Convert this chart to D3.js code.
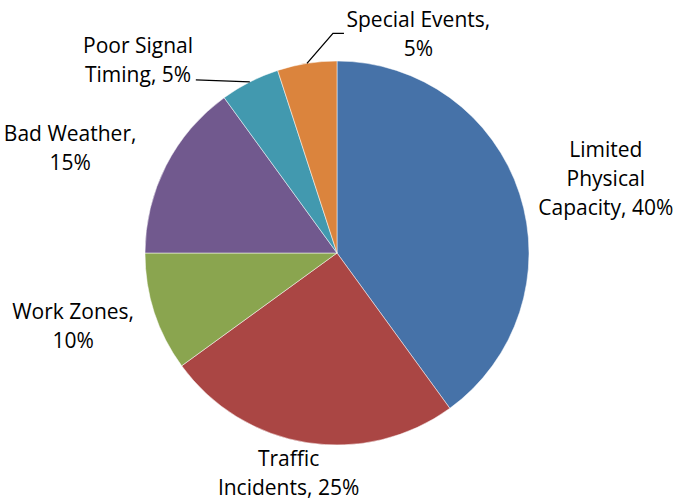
<!DOCTYPE html>
<html><head><meta charset="utf-8">
<script src="https://cdn.jsdelivr.net/npm/d3@7"></script>
<style>body{margin:0;background:#fff}svg{display:block}text{font-family:"Open Sans",sans-serif;font-size:21px;fill:#000}</style>
</head><body>
<svg id="c" width="676" height="502"></svg>
<script>
const categories = ["Limited Physical Capacity","Traffic Incidents","Work Zones","Bad Weather","Poor Signal Timing","Special Events"];
const values = [40,25,10,15,5,5];
const labelLines = [["Limited","Physical","Capacity, 40%"],["Traffic","Incidents, 25%"],["Work Zones,","10%"],["Bad Weather,","15%"],["Poor Signal","Timing, 5%"],["Special Events,","5%"]];
const colors = ["#4672A8","#AA4644","#8AA54F","#71598E","#4299AF","#DB843D"];
// layout: label center polar offset (deg from slice mid, radius)
const labelPolar = [[4,277],[3,233],[1,276],[-7,284],[-20,272],[30,227]];

const cx=337, cy=253, R=192, lh=29;
const svg=d3.select("#c");
const g=svg.append("g").attr("transform",`translate(${cx},${cy})`);
const pie=d3.pie().sort(null).value(d=>d)(values);
const arc=d3.arc().innerRadius(0).outerRadius(R);
g.selectAll("path").data(pie).join("path").attr("d",arc).attr("fill",(d,i)=>colors[i]).attr("stroke","#fff").attr("stroke-width",0.5);

const pol=(a,r)=>[r*Math.sin(a), -r*Math.cos(a)];
pie.forEach((d,i)=>{
  const mid=(d.startAngle+d.endAngle)/2;
  const [lp,lr]=labelPolar[i];
  const [x,y]=pol(mid+lp*Math.PI/180, lr);
  const lines=labelLines[i];
  const t=g.append("text").attr("text-anchor","middle");
  lines.forEach((s,k)=>{
    t.append("tspan").attr("x",x).attr("y",y+(k-(lines.length-1)/2)*lh).text(s);
  });
});
// leader lines
const edge=i=>{const d=pie[i];return pol((d.startAngle+d.endAngle)/2,R);};
{ const [x0,y0]=edge(5); g.append("path").attr("d",`M${x0},${y0}L${x0+26},${y0-30}L${x0+37},${y0-30}`).attr("fill","none").attr("stroke","#000").attr("stroke-width",1.3); }
{ const [x0,y0]=edge(4); g.append("path").attr("d",`M${x0},${y0}L${x0-54},${y0-2}`).attr("fill","none").attr("stroke","#000").attr("stroke-width",1.3); }
</script>
</body></html>
